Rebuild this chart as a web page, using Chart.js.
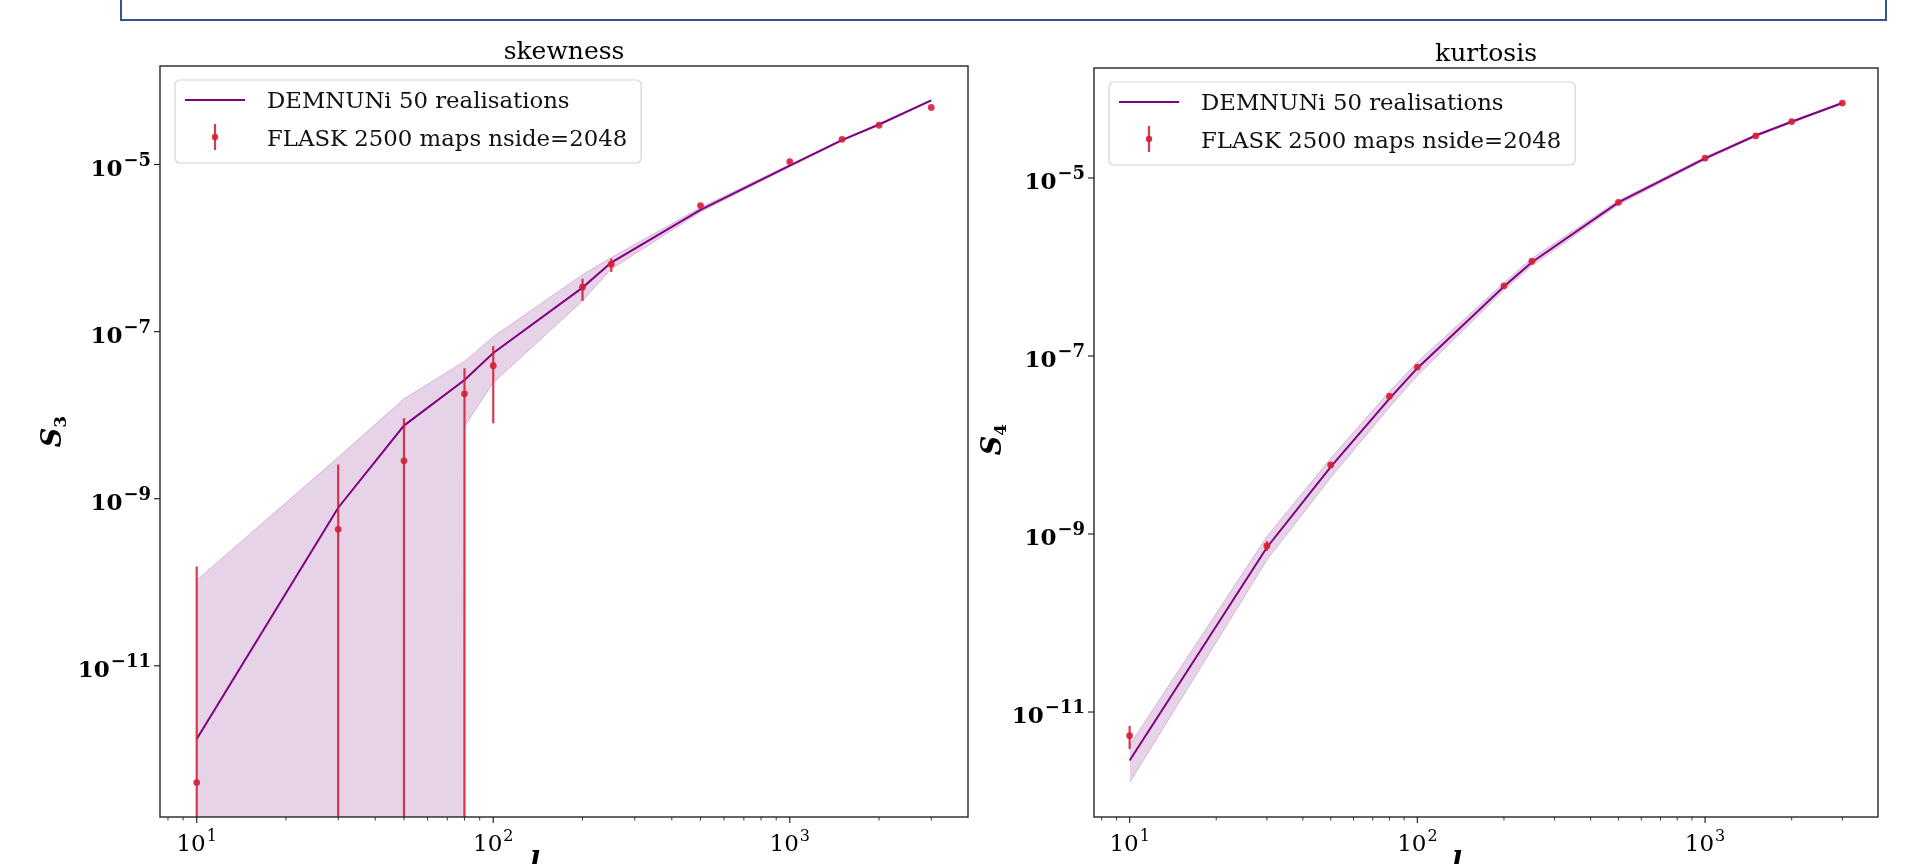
<!DOCTYPE html>
<html>
<head>
<meta charset="utf-8">
<script src="https://cdn.jsdelivr.net/npm/chart.js@4.4.1/dist/chart.umd.min.js"></script>
<style>
  html, body { margin: 0; padding: 0; background: #fff; overflow: hidden; }
  body { width: 1912px; height: 864px; position: relative; }
  #banner {
    position: absolute; left: 120px; top: -30px; width: 1763px; height: 47px;
    border: 2px solid #2f5597; background: #fff;
  }
  canvas { position: absolute; top: 0; }
  #skew { left: 0; }
  #kurt { left: 975px; }
</style>
</head>
<body>
<div id="banner"></div>
<canvas id="skew" width="975" height="890"></canvas>
<canvas id="kurt" width="937" height="890"></canvas>
<script>
const ell = [10, 30, 50, 80, 100, 200, 250, 500, 1000, 1500, 2000, 3000];

// skewness panel (0 in a lower bound = below zero, clipped like matplotlib does)
const s3Demnuni = [1.33e-12, 7.8e-10, 7.5e-9, 2.64e-8, 5.56e-8, 3.36e-7, 6.7e-7, 2.86e-6, 9.7e-6, 1.96e-5, 3.01e-5, 5.87e-5];
const s3BandHi = [1.06e-10, 3.13e-9, 1.57e-8, 4.4e-8, 8.7e-8, 4.8e-7, 7.7e-7, 3.05e-6, 1.0e-5, 2.0e-5, 3.06e-5, 5.97e-5];
const s3BandLo = [0, 0, 0, 7.3e-9, 2.44e-8, 2.33e-7, 5.6e-7, 2.7e-6, 9.4e-6, 1.92e-5, 2.96e-5, 5.78e-5];
const s3Flask = [4.0e-13, 4.3e-10, 2.84e-9, 1.8e-8, 3.9e-8, 3.4e-7, 6.4e-7, 3.22e-6, 1.08e-5, 2.0e-5, 2.95e-5, 4.81e-5];
const s3FlaskHi = [1.54e-10, 2.57e-9, 9.2e-9, 3.65e-8, 6.7e-8, 4.3e-7, 7.5e-7, 3.3e-6, 1.1e-5, 2.03e-5, 2.98e-5, 4.86e-5];
const s3FlaskLo = [0, 0, 0, 0, 8.0e-9, 2.33e-7, 5.18e-7, 3.14e-6, 1.06e-5, 1.97e-5, 2.92e-5, 4.76e-5];

// kurtosis panel
const s4Demnuni = [2.85e-12, 7.06e-10, 5.67e-9, 3.32e-8, 7.3e-8, 6.04e-7, 1.13e-6, 5.32e-6, 1.66e-5, 3.0e-5, 4.28e-5, 6.95e-5];
const s4BandHi = [4.27e-12, 9.4e-10, 7.1e-9, 4.0e-8, 8.55e-8, 6.64e-7, 1.25e-6, 5.6e-6, 1.72e-5, 3.08e-5, 4.38e-5, 7.1e-5];
const s4BandLo = [1.61e-12, 5.1e-10, 4.3e-9, 2.66e-8, 6.04e-8, 5.5e-7, 1.03e-6, 5.0e-6, 1.6e-5, 2.92e-5, 4.18e-5, 6.8e-5];
const s4Flask = [5.43e-12, 7.34e-10, 5.96e-9, 3.53e-8, 7.5e-8, 6.14e-7, 1.16e-6, 5.33e-6, 1.67e-5, 2.97e-5, 4.3e-5, 6.95e-5];
const s4FlaskHi = [6.98e-12, 8.3e-10, 6.3e-9, 3.65e-8, 7.7e-8, 6.3e-7, 1.19e-6, 5.4e-6, 1.69e-5, 3.0e-5, 4.34e-5, 7.0e-5];
const s4FlaskLo = [3.85e-12, 6.5e-10, 5.65e-9, 3.4e-8, 7.3e-8, 5.98e-7, 1.13e-6, 5.26e-6, 1.65e-5, 2.94e-5, 4.26e-5, 6.9e-5];

const xMajorTicks = [10, 100, 1000];
const xMinorTicks = [8, 9, 20, 30, 40, 50, 60, 70, 80, 90, 200, 300, 400, 500, 600, 700, 800, 900, 2000, 3000];
const yMajorTicks = [1e-11, 1e-9, 1e-7, 1e-5];
const legendLabels = ['DEMNUNi 50 realisations', 'FLASK 2500 maps nside=2048'];

const PURPLE = '#800080';
const BAND = 'rgba(128, 20, 128, 0.19)';
const BAND_EDGE = 'rgba(128, 0, 128, 0.22)';
const RED = 'rgba(212, 30, 54, 0.88)';
const INK = '#262626';
const SERIF = "'DejaVu Serif', serif";

const points = (ys) => ell.map((x, i) => ({ x, y: ys[i] }));
// log axis cannot show values <= 0, push them far below the frame
const clipLog = (v) => (v > 0 ? v : 1e-300);

function powerLabel(v) {
  const e = Math.round(Math.log10(v));
  return e < 0 ? '\u2212' + -e : String(e);
}

function drawPower(ctx, exp, x, baseline, align, bold) {
  const w = bold ? 'bold ' : '';
  const baseFont = `${w}${bold ? 23 : 23}px ${SERIF}`;
  const expFont = `${w}${bold ? 18 : 16}px ${SERIF}`;
  ctx.font = baseFont;
  const bw = ctx.measureText('10').width;
  ctx.font = expFont;
  const ew = ctx.measureText(exp).width;
  const total = bw + ew + 1;
  const x0 = align === 'right' ? x - total : x - total / 2;
  ctx.textAlign = 'left';
  ctx.textBaseline = 'alphabetic';
  ctx.font = baseFont;
  ctx.fillText('10', x0, baseline);
  ctx.font = expFont;
  ctx.fillText(exp, x0 + bw + 1, baseline - 10);
}

// matplotlib-like frame, ticks, labels and title
const mplAxes = {
  id: 'mplAxes',
  afterDraw(chart, args, opts) {
    const { ctx, chartArea: a, scales: { x, y } } = chart;
    ctx.save();
    ctx.strokeStyle = INK;
    ctx.fillStyle = '#000';

    const tick = (px, py, dx, dy, lw) => {
      ctx.lineWidth = lw;
      ctx.beginPath();
      ctx.moveTo(px, py);
      ctx.lineTo(px + dx, py + dy);
      ctx.stroke();
    };

    xMinorTicks.forEach((v) => {
      if (v < x.min || v > x.max) return;
      tick(x.getPixelForValue(v), a.bottom, 0, 3.5, 0.9);
    });
    xMajorTicks.forEach((v) => {
      const px = x.getPixelForValue(v);
      tick(px, a.bottom, 0, 6, 1.2);
      drawPower(ctx, powerLabel(v), px, a.bottom + 34, 'center', false);
    });
    yMajorTicks.forEach((v) => {
      if (v < y.min || v > y.max) return;
      const py = y.getPixelForValue(v);
      tick(a.left, py, -6, 0, 1.2);
      drawPower(ctx, powerLabel(v), a.left - 9, py + 11, 'right', true);
    });

    ctx.lineWidth = 1.4;
    ctx.strokeRect(a.left, a.top, a.right - a.left, a.bottom - a.top);

    // title
    ctx.font = `25px ${SERIF}`;
    ctx.textAlign = 'center';
    ctx.textBaseline = 'alphabetic';
    ctx.fillText(opts.title, (a.left + a.right) / 2, a.top - 7);

    // y label, rotated
    ctx.save();
    ctx.translate(a.left - opts.ylabelGap, (a.top + a.bottom) / 2 + opts.ylabelShift);
    ctx.rotate(-Math.PI / 2);
    const sFont = `italic bold 27px ${SERIF}`;
    const subFont = `bold 17px ${SERIF}`;
    ctx.font = sFont;
    const sw = ctx.measureText('S').width;
    ctx.font = subFont;
    const subw = ctx.measureText(opts.ylabelSub).width;
    const x0 = -(sw + subw) / 2;
    ctx.textAlign = 'left';
    ctx.font = sFont;
    ctx.fillText('S', x0, 10);
    ctx.font = subFont;
    ctx.fillText(opts.ylabelSub, x0 + sw, 15);
    ctx.restore();

    // x label (mostly cut off by the page edge)
    ctx.font = `italic bold 27px ${SERIF}`;
    ctx.textAlign = 'center';
    ctx.fillText('l', (a.left + a.right) / 2 - 29, a.bottom + 54);
    ctx.restore();
  },
};

// vertical error bars under the FLASK markers
const errorBars = {
  id: 'errorBars',
  beforeDatasetDraw(chart, args, opts) {
    if (args.index !== 0) return;
    const { ctx, chartArea: a, scales: { x, y } } = chart;
    ctx.save();
    ctx.beginPath();
    ctx.rect(a.left, a.top, a.right - a.left, a.bottom - a.top);
    ctx.clip();
    ctx.strokeStyle = RED;
    ctx.lineWidth = 2.2;
    ell.forEach((l, i) => {
      const px = x.getPixelForValue(l);
      const hi = y.getPixelForValue(opts.hi[i]);
      const lo = opts.lo[i] > 0 ? y.getPixelForValue(opts.lo[i]) : a.bottom + 5;
      ctx.beginPath();
      ctx.moveTo(px, lo);
      ctx.lineTo(px, hi);
      ctx.stroke();
    });
    ctx.restore();
  },
};

// matplotlib style legend inside the axes, upper left
const mplLegend = {
  id: 'mplLegend',
  afterDraw(chart) {
    const { ctx, chartArea: a } = chart;
    ctx.save();
    ctx.font = `22.8px ${SERIF}`;
    const tw = Math.max(...legendLabels.map((t) => ctx.measureText(t).width));
    const bx = a.left + 15;
    const by = a.top + 14;
    ctx.beginPath();
    ctx.roundRect(bx, by, tw + 106, 83, 5);
    ctx.fillStyle = 'rgba(255, 255, 255, 0.8)';
    ctx.fill();
    ctx.strokeStyle = '#d4d4d4';
    ctx.lineWidth = 1.2;
    ctx.stroke();

    ctx.strokeStyle = PURPLE;
    ctx.lineWidth = 2;
    ctx.beginPath();
    ctx.moveTo(bx + 10, by + 20);
    ctx.lineTo(bx + 70, by + 20);
    ctx.stroke();

    ctx.strokeStyle = RED;
    ctx.lineWidth = 2.2;
    ctx.beginPath();
    ctx.moveTo(bx + 40, by + 44);
    ctx.lineTo(bx + 40, by + 70);
    ctx.stroke();
    ctx.fillStyle = RED;
    ctx.beginPath();
    ctx.arc(bx + 40, by + 57, 3.2, 0, Math.PI * 2);
    ctx.fill();

    ctx.fillStyle = '#111';
    ctx.textAlign = 'left';
    ctx.textBaseline = 'alphabetic';
    ctx.fillText(legendLabels[0], bx + 92, by + 28);
    ctx.fillText(legendLabels[1], bx + 92, by + 66);
    ctx.restore();
  },
};

function makeChart(id, cfg) {
  return new Chart(document.getElementById(id), {
    type: 'scatter',
    data: {
      datasets: [
        {
          label: legendLabels[1],
          data: points(cfg.flask),
          showLine: false,
          pointRadius: 3.4,
          pointBackgroundColor: RED,
          pointBorderWidth: 0,
        },
        {
          label: legendLabels[0],
          data: points(cfg.demnuni),
          showLine: true,
          borderColor: PURPLE,
          borderWidth: 2,
          pointRadius: 0,
        },
        {
          data: points(cfg.bandHi),
          showLine: true,
          borderColor: BAND_EDGE,
          borderWidth: 1,
          pointRadius: 0,
          fill: '+1',
          backgroundColor: BAND,
        },
        {
          data: points(cfg.bandLo.map(clipLog)),
          showLine: true,
          borderColor: BAND_EDGE,
          borderWidth: 1,
          pointRadius: 0,
        },
      ],
    },
    options: {
      responsive: false,
      animation: false,
      events: [],
      layout: { padding: cfg.padding },
      plugins: {
        legend: { display: false },
        tooltip: { enabled: false },
        mplAxes: { title: cfg.title, ylabelSub: cfg.ylabelSub, ylabelGap: cfg.ylabelGap, ylabelShift: cfg.ylabelShift },
        errorBars: { hi: cfg.flaskHi, lo: cfg.flaskLo },
      },
      scales: {
        x: {
          type: 'logarithmic',
          min: 7.52,
          max: 3990,
          grid: { display: false },
          border: { display: false },
          ticks: { display: false },
          afterFit: (scale) => { scale.height = 73; },
        },
        y: {
          type: 'logarithmic',
          min: cfg.yMin,
          max: cfg.yMax,
          grid: { display: false },
          border: { display: false },
          ticks: { display: false },
          afterFit: (scale) => { scale.width = cfg.yWidth; },
        },
      },
    },
    plugins: [errorBars, mplAxes, mplLegend],
  });
}

makeChart('skew', {
  title: 'skewness',
  ylabelSub: '3',
  ylabelGap: 109,
  ylabelShift: -10,
  demnuni: s3Demnuni,
  bandHi: s3BandHi,
  bandLo: s3BandLo,
  flask: s3Flask,
  flaskHi: s3FlaskHi,
  flaskLo: s3FlaskLo,
  yMin: 1.55e-13,
  yMax: 1.51e-4,
  yWidth: 160,
  padding: { left: 0, top: 66, right: 7, bottom: 0 },
});

makeChart('kurt', {
  title: 'kurtosis',
  ylabelSub: '4',
  ylabelGap: 103,
  ylabelShift: -3,
  demnuni: s4Demnuni,
  bandHi: s4BandHi,
  bandLo: s4BandLo,
  flask: s4Flask,
  flaskHi: s4FlaskHi,
  flaskLo: s4FlaskLo,
  yMin: 6.62e-13,
  yMax: 1.72e-4,
  yWidth: 119,
  padding: { left: 0, top: 68, right: 34, bottom: 0 },
});
</script>
</body>
</html>
